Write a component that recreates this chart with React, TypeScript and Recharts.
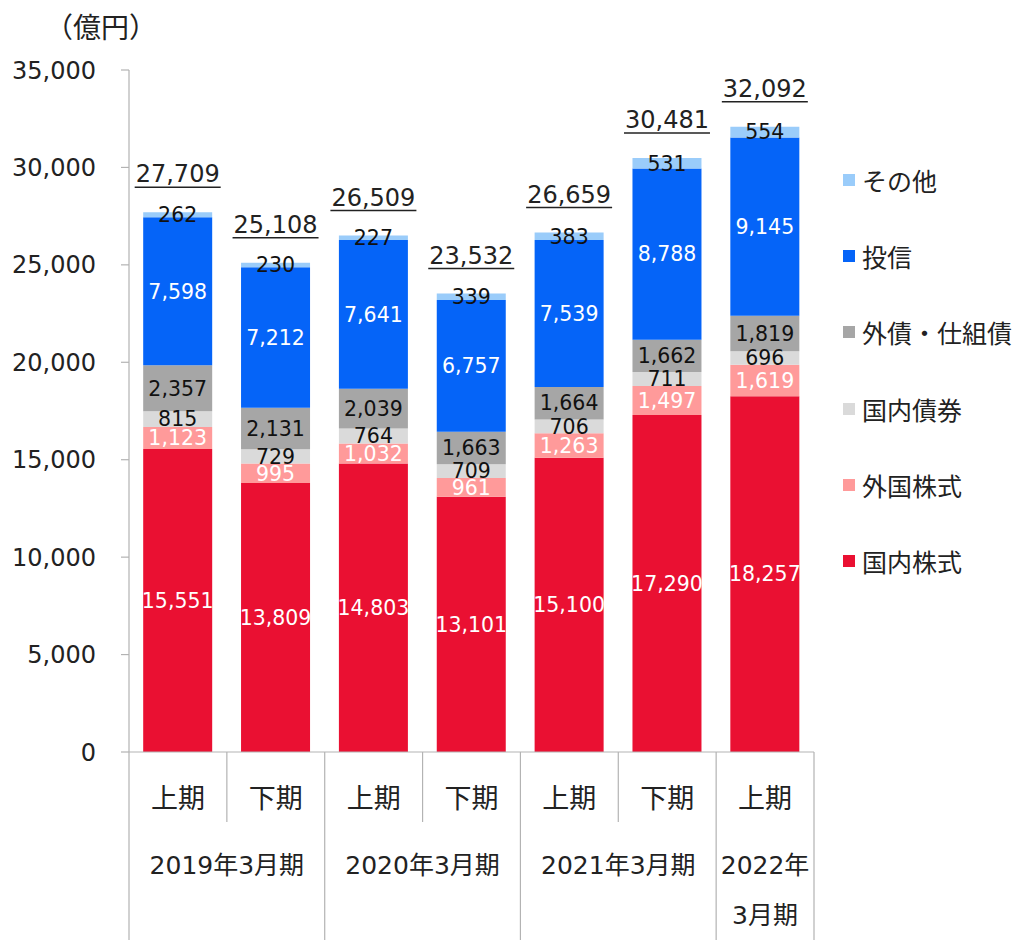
import React from 'react';
import { BarChart, Bar, XAxis, YAxis, LabelList } from 'recharts';

const periods = ['2019上', '2019下', '2020上', '2020下', '2021上', '2021下', '2022上'];
const halfLabels = ['上期', '下期', '上期', '下期', '上期', '下期', '上期'];
const groupLabels = [['2019年3月期'], ['2020年3月期'], ['2021年3月期'], ['2022年', '3月期']];
const groupSizes = [2, 2, 2, 1];
const domesticStock = [15551, 13809, 14803, 13101, 15100, 17290, 18257];
const foreignStock = [1123, 995, 1032, 961, 1263, 1497, 1619];
const domesticBond = [815, 729, 764, 709, 706, 711, 696];
const foreignBond = [2357, 2131, 2039, 1663, 1664, 1662, 1819];
const funds = [7598, 7212, 7641, 6757, 7539, 8788, 9145];
const others = [262, 230, 227, 339, 383, 531, 554];
const totals = [27709, 25108, 26509, 23532, 26659, 30481, 32092];
const yTicks = [0, 5000, 10000, 15000, 20000, 25000, 30000, 35000];

const series = [
  { key: 'domesticStock', name: '国内株式', color: '#EA1032', text: '#ffffff', values: domesticStock },
  { key: 'foreignStock', name: '外国株式', color: '#FF9A9A', text: '#ffffff', values: foreignStock },
  { key: 'domesticBond', name: '国内債券', color: '#DADADA', text: '#111111', values: domesticBond },
  { key: 'foreignBond', name: '外債・仕組債', color: '#A6A6A6', text: '#111111', values: foreignBond },
  { key: 'funds', name: '投信', color: '#0564F8', text: '#ffffff', values: funds },
  { key: 'others', name: 'その他', color: '#9ACCFA', text: '#111111', values: others },
];

const data = periods.map((p, i) => {
  const row: any = { period: p };
  series.forEach((s) => { row[s.key] = s.values[i]; });
  return row;
});

const FONT = '"DejaVu Sans", "Noto Sans CJK JP", sans-serif';
const CJK = '"Noto Sans CJK JP", "DejaVu Sans", sans-serif';
const W = 1014;
const H = 940;
const M = { top: 70, right: 200, left: 0, bottom: 0 };
const Y_W = 129;
const X_H = 188;
const PLOT_L = M.left + Y_W;
const PLOT_R = W - M.right;
const BAND = (PLOT_R - PLOT_L) / periods.length;
const AXIS_Y = H - M.bottom - X_H;
const AXIS_COLOR = '#B3B3B3';

const groupOf: number[] = [];
const groupStart: number[] = [];
groupSizes.forEach((n, g) => {
  groupStart.push(groupOf.length);
  for (let k = 0; k < n; k++) groupOf.push(g);
});

const fmt = (v: any) => Number(v).toLocaleString('en-US');

const XTick = (props: any) => {
  const { x, index } = props;
  const g = groupOf[index];
  const sameGroupNext = index + 1 < groupOf.length && groupOf[index + 1] === g;
  const rightX = x + BAND / 2;
  const els: any[] = [];
  els.push(
    <text key="t" x={x} y={AXIS_Y + 44} textAnchor="middle" dominantBaseline="central" fontSize={27} fontFamily={CJK} fill="#222">
      {halfLabels[index]}
    </text>
  );
  els.push(
    <line key="r" x1={rightX} x2={rightX} y1={AXIS_Y} y2={sameGroupNext ? AXIS_Y + 70 : H} stroke={AXIS_COLOR} strokeWidth={1.2} />
  );
  if (index === 0) {
    els.push(<line key="l" x1={x - BAND / 2} x2={x - BAND / 2} y1={AXIS_Y} y2={H} stroke={AXIS_COLOR} strokeWidth={1.2} />);
  }
  if (groupStart[g] === index) {
    const cx = x - BAND / 2 + (groupSizes[g] * BAND) / 2;
    groupLabels[g].forEach((line, li) => {
      els.push(
        <text key={'g' + li} x={cx} y={AXIS_Y + 113 + li * 50} textAnchor="middle" dominantBaseline="central" fontSize={25} fontFamily={FONT} fill="#222">
          {line}
        </text>
      );
    });
  }
  return <g>{els}</g>;
};

const TotalLabel = (props: any) => {
  const { x, y, width, index } = props;
  const cx = Number(x) + Number(width) / 2;
  const t = fmt(totals[index]);
  const w = 86;
  const base = Number(y) - 30;
  return (
    <g>
      <text x={cx} y={base} textAnchor="middle" fontSize={24} fontFamily={FONT} fill="#222">{t}</text>
      <line x1={cx - w / 2} x2={cx + w / 2} y1={base + 5} y2={base + 5} stroke="#222" strokeWidth={1.5} />
    </g>
  );
};

export default function App() {
  return (
    <div style={{ position: 'absolute', left: 0, top: 0, width: W, height: H, background: '#fff', fontFamily: FONT }}>
      <div style={{ position: 'absolute', left: 45, top: 6, fontSize: 28, color: '#222', fontFamily: CJK }}>（億円）</div>
      <BarChart width={W} height={H} data={data} margin={M} barCategoryGap="14.5%">
        <XAxis
          dataKey="period"
          height={X_H}
          interval={0}
          tickLine={false}
          tickSize={0}
          tickMargin={0}
          axisLine={{ stroke: AXIS_COLOR, strokeWidth: 1.2 }}
          tick={<XTick />}
        />
        <YAxis
          width={Y_W}
          domain={[0, 35000]}
          ticks={yTicks}
          tickFormatter={fmt}
          tickSize={8}
          tickMargin={25}
          axisLine={{ stroke: AXIS_COLOR, strokeWidth: 1.2 }}
          tickLine={{ stroke: AXIS_COLOR, strokeWidth: 1.2 }}
          tick={{ fontSize: 24, fontFamily: FONT, fill: '#222' }}
          allowDataOverflow
        />
        {series.map((s, si) => (
          <Bar key={s.key} dataKey={s.key} name={s.name} stackId="a" fill={s.color} isAnimationActive={false}>
            <LabelList dataKey={s.key} position="center" formatter={fmt} fill={s.text} fontSize={20.5} fontFamily={FONT} />
            {si === series.length - 1 ? <LabelList dataKey={s.key} content={<TotalLabel />} /> : null}
          </Bar>
        ))}
      </BarChart>
      <div style={{ position: 'absolute', left: 843, top: 0 }}>
        {series.slice().reverse().map((s, i) => (
          <div key={s.key} style={{ position: 'absolute', left: 0, top: 180 + i * 76.2 - 16, height: 32, display: 'flex', alignItems: 'center', whiteSpace: 'nowrap' }}>
            <span style={{ display: 'inline-block', width: 12, height: 12, background: s.color, marginRight: 7 }} />
            <span style={{ fontSize: 25, color: '#222', fontFamily: CJK }}>{s.name}</span>
          </div>
        ))}
      </div>
    </div>
  );
}
